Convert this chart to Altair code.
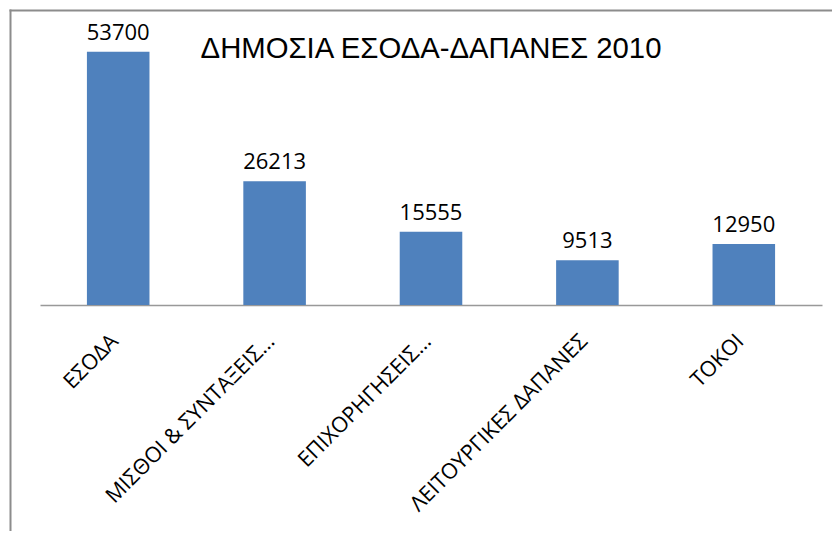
import altair as alt
import pandas as pd

categories = ["ΕΣΟΔΑ", "ΜΙΣΘΟΙ & ΣΥΝΤΑΞΕΙΣ…", "ΕΠΙΧΟΡΗΓΗΣΕΙΣ…", "ΛΕΙΤΟΥΡΓΙΚΕΣ ΔΑΠΑΝΕΣ", "ΤΟΚΟΙ"]
values = [53700, 26213, 15555, 9513, 12950]
title_text = "ΔΗΜΟΣΙΑ ΕΣΟΔΑ-ΔΑΠΑΝΕΣ 2010"

df = pd.DataFrame({"cat": categories, "val": values})

W, H = 782, 283
PAD_R, PAD_B = 10, 226

x_enc = alt.X(
    "cat:N",
    sort=categories,
    scale=alt.Scale(paddingInner=0.6, paddingOuter=0.3),
    axis=alt.Axis(
        title=None,
        labelAngle=-45,
        labelAlign="right",
        labelBaseline="middle",
        labelFont="Open Sans",
        labelFontSize=21.5,
        labelColor="#000000",
        labelPadding=33,
        labelOffset=-3,
        labelLimit=400,
        ticks=False,
        domainColor="#999999",
        domainWidth=1.5,
        grid=False,
    ),
)
y_enc = alt.Y("val:Q", scale=alt.Scale(domain=[0, 60000]), axis=None)

base = alt.Chart(df)

bars = base.mark_bar(color="#4F81BD").encode(x=x_enc, y=y_enc)

labels = base.mark_text(
    font="Open Sans", fontSize=22, color="#000000", baseline="alphabetic", dy=-12
).encode(x=x_enc, y=y_enc, text=alt.Text("val:Q", format="d"))

title = alt.Chart(pd.DataFrame({"t": [title_text]})).mark_text(
    font="Liberation Sans", fontSize=29.3, color="#000000", align="center", baseline="alphabetic"
).encode(x=alt.value(W / 2), y=alt.value(36), text="t:N")

frame_df = pd.DataFrame({"a": [0]})
frame_left = alt.Chart(frame_df).mark_rule(color="#8c8c8c", strokeWidth=2).encode(
    x=alt.value(-29.5), y=alt.value(-12.5), y2=alt.value(H + PAD_B)
)
frame_top = alt.Chart(frame_df).mark_rule(color="#8c8c8c", strokeWidth=2).encode(
    y=alt.value(-11.5), x=alt.value(-30.5), x2=alt.value(W + PAD_R)
)

chart = alt.layer(frame_left, frame_top, bars, labels, title).properties(
    width=W,
    height=H,
    background="white",
    autosize=alt.AutoSizeParams(type="none"),
    padding={"left": 32, "top": 14, "right": PAD_R, "bottom": PAD_B},
).configure_view(stroke=None)

chart.save("out.html", embed_options={"renderer": "svg", "actions": False})
